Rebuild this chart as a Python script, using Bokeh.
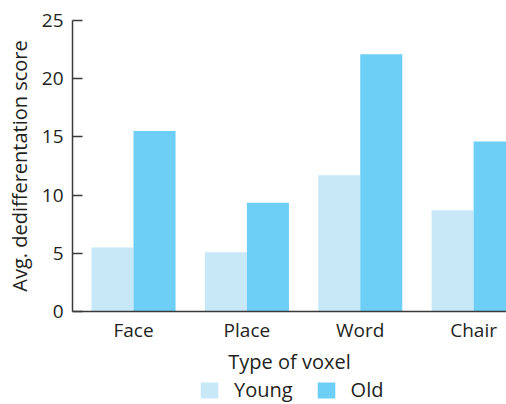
from bokeh.plotting import figure
from bokeh.layouts import column
from bokeh.models import Range1d, FixedTicker, ColumnDataSource, Legend, LegendItem
from bokeh.transform import dodge
from bokeh.embed import file_html
from bokeh.resources import INLINE

categories = ["Face", "Place", "Word", "Chair"]
young = [5.5, 5.1, 11.7, 8.7]
old = [15.5, 9.35, 22.1, 14.6]
y_ticks = [0, 5, 10, 15, 20, 25]
series_names = ["Young", "Old"]

FONT = "Open Sans"
TXT = "#231f20"
AX = "#3a3a3a"
C_YOUNG = "#c8e8f8"
C_OLD = "#6dcff6"

xs = list(range(1, len(categories) + 1))
src = ColumnDataSource(dict(x=xs, young=young, old=old))

p = figure(width=506, height=379, output_backend="svg", toolbar_location=None,
           x_range=Range1d(0.462, 4.29), y_range=Range1d(0, 25),
           min_border_left=72, min_border_right=0, min_border_top=20, min_border_bottom=68)

p.vbar(x=dodge("x", -0.1855, range=p.x_range), top="young", width=0.371, source=src,
       fill_color=C_YOUNG, line_color=None)
p.vbar(x=dodge("x", 0.1855, range=p.x_range), top="old", width=0.371, source=src,
       fill_color=C_OLD, line_color=None)

p.outline_line_color = None
p.xgrid.visible = False
p.ygrid.visible = False

xa = p.xaxis[0]
xa.ticker = FixedTicker(ticks=xs)
xa.major_label_overrides = {x: c for x, c in zip(xs, categories)}
xa.major_tick_out = 0
xa.major_tick_in = 0
xa.minor_tick_line_color = None
xa.axis_line_color = AX
xa.axis_line_width = 1.5
xa.major_label_standoff = 5
xa.major_label_text_font = FONT
xa.major_label_text_font_size = "19px"
xa.major_label_text_color = TXT
xa.axis_label = "Type of voxel"
xa.axis_label_text_font = FONT
xa.axis_label_text_font_size = "20px"
xa.axis_label_text_font_style = "normal"
xa.axis_label_text_color = TXT
xa.axis_label_standoff = 2

ya = p.yaxis[0]
ya.ticker = FixedTicker(ticks=y_ticks)
ya.major_tick_out = 0
ya.major_tick_in = 10
ya.major_tick_line_color = AX
ya.major_tick_line_width = 1.5
ya.minor_tick_line_color = None
ya.axis_line_color = AX
ya.axis_line_width = 1.5
ya.major_label_standoff = 9
ya.major_label_text_font = FONT
ya.major_label_text_font_size = "19px"
ya.major_label_text_color = TXT
ya.axis_label = "Avg. dedifferentation score"
ya.axis_label_text_font = FONT
ya.axis_label_text_font_size = "20px"
ya.axis_label_text_font_style = "normal"
ya.axis_label_text_color = TXT
ya.axis_label_standoff = 6

# legend strip below the chart (swatch renderers sit outside the strip's visible range)
p2 = figure(width=506, height=25, output_backend="svg", toolbar_location=None,
            x_axis_type=None, y_axis_type=None, min_border=0,
            x_range=Range1d(0, 1), y_range=Range1d(0, 1))
p2.outline_line_color = None
p2.xgrid.visible = False
p2.ygrid.visible = False
d1 = p2.vbar(x=[5], top=[1], width=0.1, fill_color=C_YOUNG, line_color=None)
d2 = p2.vbar(x=[5], top=[1], width=0.1, fill_color=C_OLD, line_color=None)
legend = Legend(items=[LegendItem(label=series_names[0], renderers=[d1]),
                       LegendItem(label=series_names[1], renderers=[d2])],
                orientation="horizontal", location=(126, 1),
                glyph_width=22, glyph_height=20, label_standoff=14, spacing=22,
                border_line_color=None, background_fill_alpha=0,
                label_text_font=FONT, label_text_font_size="20px", label_text_color=TXT,
                label_height=20, padding=0, margin=0)
p2.add_layout(legend, "center")

layout = column(p, p2, spacing=0)
open("out.html", "w").write(file_html(layout, INLINE))
